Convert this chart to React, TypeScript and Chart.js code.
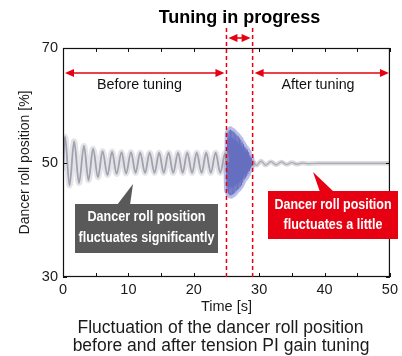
import React, { useEffect, useRef } from "react";
import { Chart, registerables } from "chart.js";

Chart.register(...registerables);

const FONT = '"Liberation Sans", Arial, Helvetica, sans-serif';

// ---- data ----
const xTickValues = [0, 10, 20, 30, 40, 50];
const xMinorTicks = [0, 5, 10, 15, 20, 25, 30, 35, 40, 45, 50];
const yTickValues = [30, 50, 70];

const beforeTime = [
  0.0, 0.3, 1.0, 1.7, 2.45, 3.2, 3.9, 4.6, 5.35, 6.05, 6.8, 7.5, 8.2, 8.95, 9.65,
  10.4, 11.1, 11.8, 12.55, 13.25, 14.0, 14.7, 15.4, 16.15, 16.85, 17.6, 18.3, 19.0,
  19.75, 20.45, 21.2, 21.9, 22.6, 23.35, 24.05, 24.8, 25.0,
];
const beforeValue = [
  48.5, 54.5, 46.0, 53.7, 46.4, 52.9, 46.9, 52.4, 47.4, 52.0, 47.8, 51.9, 48.0, 51.8, 48.1,
  51.8, 48.2, 51.7, 48.2, 51.7, 48.2, 51.7, 48.2, 51.7, 48.2, 51.7, 48.2, 51.7,
  48.2, 51.7, 48.2, 51.7, 48.2, 51.7, 48.2, 51.6, 50.0,
];

const tuningTime = [
  25.0, 25.1, 25.2, 25.3, 25.4, 25.5, 25.6, 25.7, 25.8, 25.9,
  26.0, 26.1, 26.2, 26.3, 26.4, 26.5, 26.6, 26.7, 26.8, 26.9,
  27.0, 27.1, 27.2, 27.3, 27.4, 27.5, 27.6, 27.7, 27.8, 27.9,
  28.0, 28.1, 28.2, 28.3, 28.4, 28.5, 28.6, 28.7, 28.8, 28.9, 29.0,
];
const tuningValue = [
  50.0, 45.0, 55.2, 44.5, 55.6, 44.3, 55.8, 44.2, 55.6, 44.4,
  55.5, 44.5, 55.3, 44.7, 55.0, 45.0, 54.8, 45.2, 54.6, 45.4,
  54.3, 45.7, 54.0, 46.0, 53.6, 46.5, 53.2, 47.0, 52.8, 47.3,
  52.5, 47.6, 52.2, 48.0, 51.8, 48.5, 51.2, 49.0, 50.8, 49.4, 50.3,
];

const afterTime = [29.0, 29.6, 30.3, 31.0, 31.8, 32.6, 33.4, 34.2, 35.0, 35.8, 36.6, 37.5, 39.0, 42.0, 46.0, 50.0];
const afterValue = [50.3, 49.5, 50.25, 49.55, 50.15, 49.6, 50.1, 49.65, 50.0, 49.7, 49.9, 49.8, 49.85, 49.85, 49.85, 49.85];

// ---- text ----
const titleText = "Tuning in progress";
const beforeLabel = "Before tuning";
const afterLabel = "After tuning";
const tuningStart = 25;
const tuningEnd = 29;
const grayNote = ["Dancer roll position", "fluctuates significantly"];
const redNote = ["Dancer roll position", "fluctuates a little"];
const caption = ["Fluctuation of the dancer roll position", "before and after tension PI gain tuning"];
const xTitle = "Time [s]";
const yTitle = "Dancer roll position [%]";

const RED = "#e60012";
const GRAY_BOX = "#595959";

const toPts = (t: number[], v: number[]) => t.map((x, i) => ({ x, y: v[i] }));

function arrowHead(ctx: CanvasRenderingContext2D, x: number, y: number, dir: number) {
  const L = 9, W = 4;
  ctx.beginPath();
  ctx.moveTo(x, y);
  ctx.lineTo(x - dir * L, y - W);
  ctx.lineTo(x - dir * L, y + W);
  ctx.closePath();
  ctx.fill();
}

function doubleArrow(ctx: CanvasRenderingContext2D, x1: number, x2: number, y: number) {
  ctx.beginPath();
  ctx.moveTo(x1 + 4, y);
  ctx.lineTo(x2 - 4, y);
  ctx.stroke();
  arrowHead(ctx, x1, y, -1);
  arrowHead(ctx, x2, y, 1);
}

function squeezedText(ctx: CanvasRenderingContext2D, text: string, cx: number, cy: number, w: number) {
  const m = ctx.measureText(text).width;
  const s = Math.min(1, w / m);
  ctx.save();
  ctx.translate(cx, cy);
  ctx.scale(s, 1);
  ctx.fillText(text, 0, 0);
  ctx.restore();
}

const annotate = {
  id: "annotate",
  afterDatasetsDraw(chart: any) {
    const ctx: CanvasRenderingContext2D = chart.ctx;
    const xs = chart.scales.x;
    const ys = chart.scales.y;
    const a = chart.chartArea;
    ctx.save();

    // frame
    ctx.strokeStyle = "#111";
    ctx.lineWidth = 1.2;
    ctx.strokeRect(a.left + 0.5, a.top + 0.5, a.right - a.left - 1, a.bottom - a.top - 1);

    // inward ticks
    ctx.lineWidth = 1;
    ctx.beginPath();
    xMinorTicks.forEach((v) => {
      const px = Math.round(xs.getPixelForValue(v)) + 0.5;
      ctx.moveTo(px, a.top);
      ctx.lineTo(px, a.top + 4);
      ctx.moveTo(px, a.bottom);
      ctx.lineTo(px, a.bottom - 4);
    });
    yTickValues.forEach((v) => {
      const py = Math.round(ys.getPixelForValue(v)) + 0.5;
      ctx.moveTo(a.left, py);
      ctx.lineTo(a.left + 4, py);
      ctx.moveTo(a.right, py);
      ctx.lineTo(a.right - 4, py);
    });
    ctx.stroke();

    const x25 = xs.getPixelForValue(tuningStart);
    const x29 = xs.getPixelForValue(tuningEnd);

    // dashed lines
    ctx.strokeStyle = RED;
    ctx.fillStyle = RED;
    ctx.lineWidth = 1.5;
    ctx.setLineDash([4, 3]);
    ctx.beginPath();
    ctx.moveTo(x25, 28);
    ctx.lineTo(x25, a.bottom);
    ctx.moveTo(x29, 28);
    ctx.lineTo(x29, a.bottom);
    ctx.stroke();
    ctx.setLineDash([]);

    // arrows
    ctx.lineWidth = 1.6;
    doubleArrow(ctx, x25 + 2, x29 - 2, 38);
    doubleArrow(ctx, a.left + 2, x25 - 2, a.top + 25);
    doubleArrow(ctx, x29 + 2, a.right - 1, a.top + 25);

    // labels
    ctx.fillStyle = "#111";
    ctx.font = `14.3px ${FONT}`;
    ctx.textAlign = "center";
    ctx.textBaseline = "middle";
    ctx.fillText(beforeLabel, xs.getPixelForValue(11.7), a.top + 37);
    ctx.fillText(afterLabel, xs.getPixelForValue(39), a.top + 37);

    // title
    ctx.font = `bold 18px ${FONT}`;
    ctx.fillStyle = "#000";
    ctx.fillText(titleText, (x25 + x29) / 2, 18);

    // caption
    ctx.font = `17.5px ${FONT}`;
    ctx.fillStyle = "#1a1a1a";
    ctx.fillText(caption[0], 220.5, 328.5);
    ctx.fillText(caption[1], 221, 346.5);

    // gray note
    ctx.fillStyle = GRAY_BOX;
    ctx.beginPath();
    ctx.moveTo(117, 205);
    ctx.lineTo(133, 184);
    ctx.lineTo(130, 205);
    ctx.closePath();
    ctx.fill();
    ctx.fillRect(75, 204, 143, 49);
    ctx.fillStyle = "#fff";
    ctx.font = `bold 14.5px ${FONT}`;
    squeezedText(ctx, grayNote[0], 146.5, 217, 118);
    squeezedText(ctx, grayNote[1], 146.5, 238, 136);

    // red note
    ctx.fillStyle = RED;
    ctx.beginPath();
    ctx.moveTo(320, 192);
    ctx.lineTo(313, 172);
    ctx.lineTo(334, 192);
    ctx.closePath();
    ctx.fill();
    ctx.fillRect(268, 191, 130, 48);
    ctx.fillStyle = "#fff";
    squeezedText(ctx, redNote[0], 333, 205, 117);
    squeezedText(ctx, redNote[1], 333, 225, 99);

    ctx.restore();
  },
};

export default function App() {
  const ref = useRef<HTMLCanvasElement | null>(null);

  useEffect(() => {
    if (!ref.current) return;
    Chart.defaults.font.family = FONT;
    const line = (data: any, color: string, width: number) => ({
      data,
      borderColor: color,
      borderWidth: width,
      pointRadius: 0,
      fill: false,
      cubicInterpolationMode: "monotone" as const,
    });
    const chart = new Chart(ref.current, {
      type: "line",
      data: {
        datasets: [
          line(toPts(beforeTime, beforeValue), "rgba(175,175,190,0.35)", 6),
          line(toPts(beforeTime, beforeValue), "rgba(120,120,138,0.75)", 1.8),
          line(toPts(afterTime, afterValue), "rgba(180,180,190,0.5)", 4.5),
          line(toPts(afterTime, afterValue), "rgba(130,130,140,0.75)", 1.2),
          line(toPts(tuningTime, tuningValue), "rgba(100,110,205,0.45)", 6),
          line(toPts(tuningTime, tuningValue), "rgba(40,50,150,0.7)", 1.3),
        ],
      },
      options: {
        responsive: false,
        animation: false,
        layout: { padding: { left: 10, right: 10, top: 48, bottom: 38.8 } },
        plugins: {
          legend: { display: false },
          tooltip: { enabled: false },
          title: { display: false },
        },
        scales: {
          x: {
            type: "linear",
            min: 0,
            max: 50,
            afterBuildTicks: (s: any) => {
              s.ticks = xTickValues.map((v) => ({ value: v }));
            },
            afterFit: (s: any) => {
              s.height = 40.2;
            },
            grid: { display: false, drawTicks: false },
            border: { display: false },
            ticks: { color: "#1a1a1a", font: { size: 14.5, family: FONT }, padding: 4, maxRotation: 0 },
            title: {
              display: true,
              text: xTitle,
              color: "#1a1a1a",
              font: { size: 14.5, family: FONT },
              padding: { top: 0, bottom: 1.8 },
            },
          },
          y: {
            type: "linear",
            min: 30,
            max: 70,
            afterBuildTicks: (s: any) => {
              s.ticks = yTickValues.map((v) => ({ value: v }));
            },
            afterFit: (s: any) => {
              s.width = 53;
            },
            grid: { display: false, drawTicks: false },
            border: { display: false },
            ticks: { color: "#1a1a1a", font: { size: 14.5, family: FONT }, padding: 5 },
            title: {
              display: true,
              text: yTitle,
              color: "#1a1a1a",
              font: { size: 14, family: FONT },
              padding: { top: 6.6, bottom: 0 },
            },
          },
        },
      },
      plugins: [annotate],
    });
    return () => chart.destroy();
  }, []);

  return (
    <div style={{ position: "absolute", left: 0, top: 0, width: 402, height: 356, background: "#fff" }}>
      <canvas ref={ref} width={402} height={356} style={{ display: "block", width: 402, height: 356 }} />
    </div>
  );
}
